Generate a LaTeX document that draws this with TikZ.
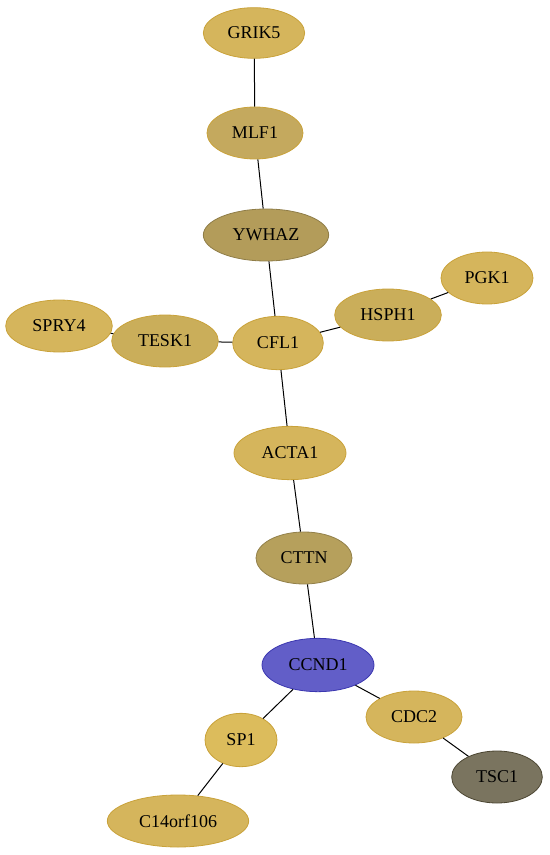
\documentclass[tikz,border=0pt]{standalone}
\usepackage{fontspec}
\setmainfont{Liberation Serif}
\usetikzlibrary{shapes.geometric}
\definecolor{gold}{HTML}{D5B55C}
\definecolor{goldb}{HTML}{C9A23A}
\definecolor{mlf}{HTML}{C4A95E}
\definecolor{ywhaz}{HTML}{B39C5A}
\definecolor{cttn}{HTML}{B6A05C}
\definecolor{tesk}{HTML}{CAAE5A}
\definecolor{sp}{HTML}{DCBC5C}
\definecolor{ccnd}{HTML}{625EC8}
\definecolor{ccndb}{HTML}{3B37B0}
\definecolor{tsc}{HTML}{7A745F}
\definecolor{tscb}{HTML}{4C4632}
\begin{document}
\begin{tikzpicture}[x=0.75pt,y=-0.75pt,
  gn/.style={ellipse,draw=goldb,fill=gold,line width=0.6pt,inner sep=0pt,font=\fontsize{13.5pt}{15pt}\selectfont},
  ed/.style={draw=black,line width=0.75pt}]
\useasboundingbox (0,0) rectangle (549,855);
\node[gn,minimum width=76pt,minimum height=38pt] (GRIK5) at (254,33) {GRIK5};
\node[gn,fill=mlf,minimum width=72pt,minimum height=39pt] (MLF1) at (255,133) {MLF1};
\node[gn,fill=ywhaz,draw=ywhaz!80!black,minimum width=94pt,minimum height=39pt] (YWHAZ) at (266,235) {YWHAZ};
\node[gn,minimum width=69pt,minimum height=39pt] (PGK1) at (487,278) {PGK1};
\node[gn,fill=tesk,minimum width=80pt,minimum height=39pt] (HSPH1) at (388,315) {HSPH1};
\node[gn,minimum width=80pt,minimum height=39pt] (SPRY4) at (59,326) {SPRY4};
\node[gn,fill=tesk,minimum width=80pt,minimum height=39pt] (TESK1) at (165,341) {TESK1};
\node[gn,minimum width=68pt,minimum height=40pt] (CFL1) at (278,343) {CFL1};
\node[gn,minimum width=84pt,minimum height=40pt] (ACTA1) at (290,453) {ACTA1};
\node[gn,fill=cttn,draw=cttn!80!black,minimum width=72pt,minimum height=39pt] (CTTN) at (304,558) {CTTN};
\node[gn,fill=ccnd,draw=ccndb,minimum width=84pt,minimum height=40pt] (CCND1) at (318,665) {CCND1};
\node[gn,minimum width=72pt,minimum height=39pt] (CDC2) at (414,717) {CDC2};
\node[gn,fill=sp,minimum width=54pt,minimum height=40pt] (SP1) at (241,740) {SP1};
\node[gn,fill=tsc,draw=tscb,minimum width=68pt,minimum height=39pt] (TSC1) at (497,777) {TSC1};
\node[gn,minimum width=106pt,minimum height=39pt] (C14) at (178,821) {C14orf106};
\draw[ed] (GRIK5) -- (MLF1);
\draw[ed] (MLF1) -- (YWHAZ);
\draw[ed] (YWHAZ) -- (CFL1);
\draw[ed] (CFL1) -- (TESK1);
\draw[ed] (TESK1) -- (SPRY4);
\draw[ed] (CFL1) -- (HSPH1);
\draw[ed] (HSPH1) -- (PGK1);
\draw[ed] (CFL1) -- (ACTA1);
\draw[ed] (ACTA1) -- (CTTN);
\draw[ed] (CTTN) -- (CCND1);
\draw[ed] (CCND1) -- (SP1);
\draw[ed] (CCND1) -- (CDC2);
\draw[ed] (SP1) -- (C14);
\draw[ed] (CDC2) -- (TSC1);
\end{tikzpicture}
\end{document}
